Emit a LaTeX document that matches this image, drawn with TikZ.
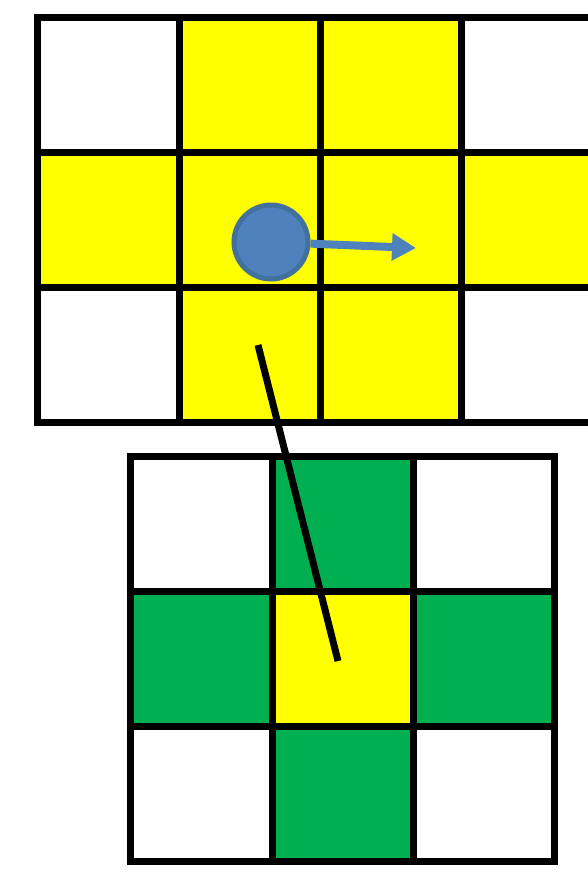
\documentclass[tikz,border=0pt]{standalone}
\usepackage{tikz}
\usetikzlibrary{arrows.meta,positioning}
\definecolor{cellyellow}{HTML}{FFFF00}
\definecolor{cellgreen}{HTML}{00B050}
\definecolor{dotblue}{HTML}{4F81BD}
\definecolor{dotedge}{HTML}{41719C}
\tikzset{
  gridline/.style={line width=7pt,line cap=rect},
  dot/.style={circle,fill=dotblue,draw=dotedge,line width=5pt,minimum size=74pt,inner sep=0pt},
  move/.style={dotblue,line width=8pt,-{Triangle[length=24pt,width=26pt]}},
  link/.style={line width=7pt}
}
\begin{document}
\begin{tikzpicture}[x=1pt,y=-1pt]
  \useasboundingbox (0,0) rectangle (588,873);
  \clip (0,0) rectangle (588,873);
  % upper grid, yellow cells
  \foreach \xa/\xb in {179/320,320/461} {
    \fill[cellyellow] (\xa,17) rectangle (\xb,422);
  }
  \fill[cellyellow] (37,152) rectangle (610,287);
  \foreach \y in {17,152,287,422} \draw[gridline] (37,\y) -- (600,\y);
  \foreach \x in {37,179,320,461} \draw[gridline] (\x,17) -- (\x,422);
  % lower grid, green cross around the yellow centre
  \fill[cellgreen] (272,456) rectangle (413,861);
  \fill[cellgreen] (130,591) rectangle (554,726);
  \fill[cellyellow] (272,591) rectangle (413,726);
  \foreach \y in {456,591,726,861} \draw[gridline] (130,\y) -- (554,\y);
  \foreach \x in {130,272,413,554} \draw[gridline] (\x,456) -- (\x,861);
  % moving particle
  \node[dot] (ball) at (271,242) {};
  \coordinate (aim) at (416,248);
  \draw[move] (ball) -- (aim);
  % link between the grids
  \coordinate (lnA) at (258,345);
  \coordinate (lnB) at (338,661);
  \draw[link] (lnA) -- (lnB);
\end{tikzpicture}
\end{document}
